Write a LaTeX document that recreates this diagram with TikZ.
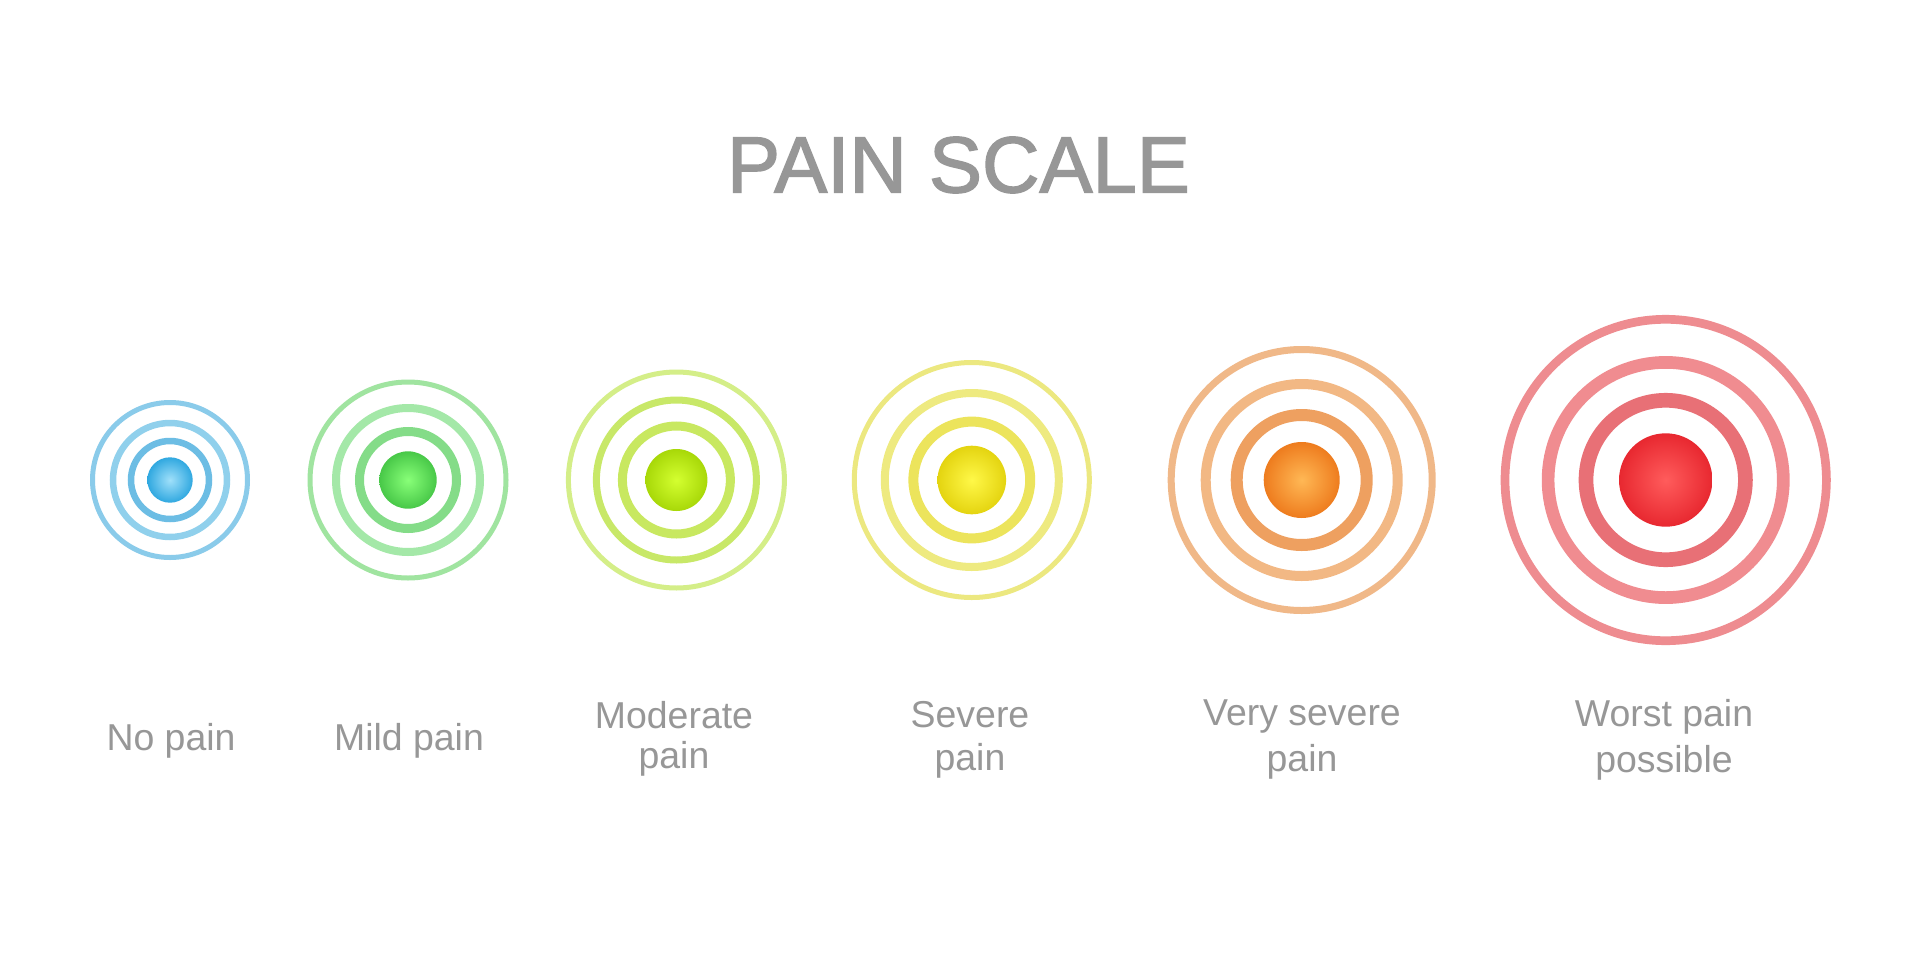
\documentclass[tikz,border=0pt]{standalone}
\usepackage{fontspec}
\setmainfont{Liberation Sans}
\newfontfamily\titlefont[FakeBold=1.8]{Liberation Sans}
\definecolor{paintext}{HTML}{979797}
\tikzset{
  ringline/.style={draw,fill=none},
  caption/.style={text=paintext,align=center,font=\fontsize{21.3}{26}\selectfont}
}
\begin{document}
\begin{tikzpicture}[x=0.02cm,y=-0.02cm]
\useasboundingbox (0,0) rectangle (1920,960);
\fill[white] (0,0) rectangle (1920,960);
\node[text=paintext,font=\titlefont\fontsize{45.3}{50}\selectfont] (title) at (958.5,165) {PAIN SCALE};
% centre, core radius, ring radii and widths, ring colours, core colours
\foreach \cx/\rcore/\ra/\rb/\rr/\wa/\wb/\wr/\cola/\colb/\colr/\colin/\colout in {
  170/22.7/39/57/77.5/6.5/6.5/5/6CBDE4/90D0EC/8ACBEA/A0E0FA/30A8E0,
  408/28.7/48.5/72/98/9/8/5/84DC88/A4E8A8/A0E4A0/88FF78/48C848,
  676.4/31/54/80/108/9/7/5/C8E860/C8E868/D4EE88/D4FF30/A8D808,
  971.8/34.3/58.4/87/117.5/10/8/5/ECE45C/EEEA80/ECE880/FFF848/E4D410,
  1301.7/38/65/96/130.5/12/10/7/EEA060/F2B884/F0B888/FFB855/EE7C1E,
  1665.7/46.7/79.7/117.6/160.7/14.7/12.7/8.7/E87076/F08C90/EE8C90/FF5C5C/E82830}
{
  \definecolor{ringa}{HTML}{\cola}
  \definecolor{ringb}{HTML}{\colb}
  \definecolor{ringr}{HTML}{\colr}
  \definecolor{corein}{HTML}{\colin}
  \definecolor{coreout}{HTML}{\colout}
  \draw[ringline,draw=ringa,line width=\wa*0.02cm] (\cx,480) circle[radius=\ra];
  \draw[ringline,draw=ringb,line width=\wb*0.02cm] (\cx,480) circle[radius=\rb];
  \draw[ringline,draw=ringr,line width=\wr*0.02cm] (\cx,480) circle[radius=\rr];
  \shade[inner color=corein,outer color=coreout] (\cx,480) circle[radius=\rcore];
}
\node[caption] (nopain) at (171,740.5) {No pain};
\node[caption] (mildpain) at (409,740.5) {Mild pain};
\node[caption] (modpain) at (674,739) {Moderate\\[-3.5pt]pain};
\node[caption] (sevpain) at (970,740) {Severe\\[-1.5pt]pain};
\node[caption] (vsevpain) at (1302,739.5) {Very severe\\pain};
\node[caption] (worstpain) at (1664,739.5) {Worst pain\\possible};
\end{tikzpicture}
\end{document}
